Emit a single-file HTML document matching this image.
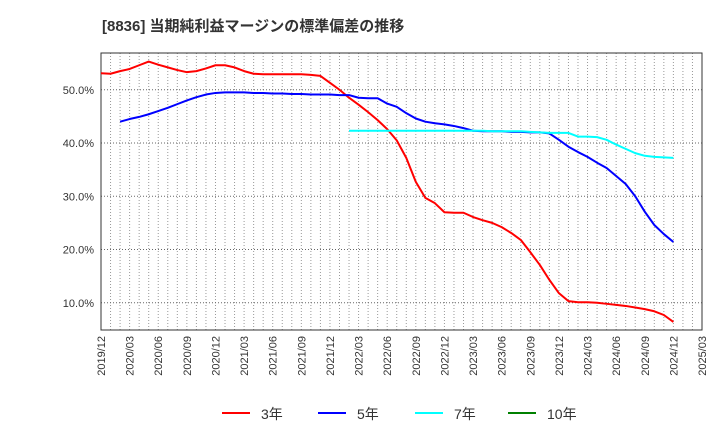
<!DOCTYPE html>
<html><head><meta charset="utf-8"><style>
body{margin:0;background:#fff;width:720px;height:440px;overflow:hidden;font-family:"Liberation Sans","Noto Sans CJK JP",sans-serif}
</style></head><body>
<svg id="chart" width="720" height="440" xmlns="http://www.w3.org/2000/svg" font-family="Liberation Sans, Noto Sans CJK JP, sans-serif">
<text x="102" y="31" font-size="15" font-weight="bold" fill="#333">[8836]  当期純利益マージンの標準偏差の推移</text>
<g id="grid"></g><g id="axes"></g><g id="series"></g><g id="legend"></g>
</svg>
<script>
const startMonth = 0; // 2019/12
const yTicks = [10, 20, 30, 40, 50];
const xTickLabels = ["2019/12","2020/03","2020/06","2020/09","2020/12","2021/03","2021/06","2021/09","2021/12","2022/03","2022/06","2022/09","2022/12","2023/03","2023/06","2023/09","2023/12","2024/03","2024/06","2024/09","2024/12","2025/03"];
const series3Start = 0;
const series3 = [53.1,53.0,53.5,53.9,54.6,55.3,54.7,54.2,53.7,53.3,53.5,54.0,54.6,54.6,54.2,53.5,53.0,52.9,52.9,52.9,52.9,52.9,52.8,52.6,51.3,50.0,48.5,47.2,45.8,44.3,42.6,40.5,37.2,32.7,29.7,28.7,27.0,26.9,26.9,26.1,25.5,25.0,24.2,23.1,21.8,19.5,17.1,14.3,11.8,10.3,10.1,10.1,10.0,9.8,9.6,9.4,9.1,8.8,8.4,7.7,6.4];
const series5Start = 2;
const series5 = [44.0,44.5,44.9,45.4,46.0,46.6,47.3,48.0,48.6,49.1,49.4,49.5,49.5,49.5,49.4,49.4,49.3,49.3,49.2,49.2,49.1,49.1,49.1,49.0,49.0,48.5,48.4,48.4,47.4,46.8,45.6,44.6,44.0,43.7,43.5,43.2,42.8,42.3,42.2,42.2,42.2,42.1,42.1,42.0,42.0,41.8,40.6,39.3,38.3,37.4,36.3,35.3,33.8,32.3,30.0,27.1,24.6,22.9,21.4];
const series7Start = 26;
const series7 = [42.3,42.3,42.3,42.3,42.3,42.3,42.3,42.3,42.3,42.3,42.3,42.3,42.3,42.3,42.3,42.2,42.2,42.2,42.2,42.1,42.0,41.9,41.9,41.9,41.2,41.2,41.1,40.6,39.7,38.9,38.1,37.6,37.4,37.3,37.2];
const series10 = [];
const L=101,R=702,T=53,B=330,NM=63;
const xs=m=>L+(R-L)*m/NM;
const ys=v=>356-v*5.325;
const NS="http://www.w3.org/2000/svg";
function mk(tag,attrs,parent){const e=document.createElementNS(NS,tag);for(const k in attrs)e.setAttribute(k,attrs[k]);parent.appendChild(e);return e;}
const grid=document.getElementById('grid'),axes=document.getElementById('axes'),ser=document.getElementById('series'),leg=document.getElementById('legend');
for(let m=1;m<NM;m++){const l=mk('line',{x1:xs(m),x2:xs(m),y1:T,y2:B,stroke:'#999','stroke-width':1,'stroke-dasharray':'1,2'},grid);

}
yTicks.forEach(v=>{const l=mk('line',{x1:L,x2:R,y1:ys(v),y2:ys(v),stroke:'#666','stroke-width':1,'stroke-dasharray':'1,2'},grid);


const t=mk('text',{x:L-7,y:ys(v)+4,'text-anchor':'end','font-size':11,fill:'#333'},axes);t.textContent=v.toFixed(1)+'%';

});
const frame=mk('rect',{x:L,y:T,width:R-L,height:B-T,fill:'none',stroke:'#333','stroke-width':1},axes);


xTickLabels.forEach((s,i)=>{const x=xs(i*3);const t=mk('text',{x:0,y:0,transform:`translate(${x+4},336) rotate(-90)`,'text-anchor':'end','font-size':11,fill:'#333'},axes);t.textContent=s;

});
function draw(data,start,color,name){if(!data.length)return;const p=mk('polyline',{points:data.map((v,i)=>xs(start+i)+','+ys(v)).join(' '),fill:'none',stroke:color,'stroke-width':2,'stroke-linejoin':'round'},ser);

}
draw(series3,series3Start,'#ff0000','line-3y');
draw(series5,series5Start,'#0000ff','line-5y');
draw(series7,series7Start,'#00ffff','line-7y');
draw(series10,0,'#008000','line-10y');
[['3年','#ff0000',222],['5年','#0000ff',318],['7年','#00ffff',415],['10年','#008000',508]].forEach(([lab,c,x])=>{
const g=mk('g',{},leg);


mk('line',{x1:x,x2:x+28,y1:413,y2:413,stroke:c,'stroke-width':2},g);
const t=mk('text',{x:x+39,y:419,'font-size':14,fill:'#333'},g);t.textContent=lab;});
</script>
</body></html>
